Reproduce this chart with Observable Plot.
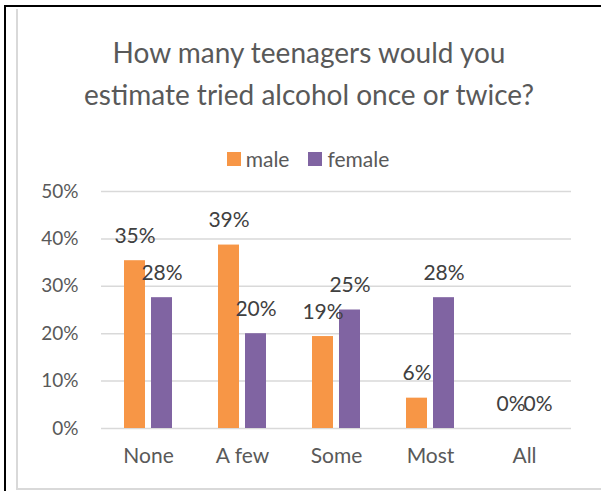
<!DOCTYPE html>
<html>
<head>
<meta charset="utf-8">
<script src="https://cdn.jsdelivr.net/npm/d3@7"></script>
<script src="https://cdn.jsdelivr.net/npm/@observablehq/plot@0.6"></script>
<style>
  html, body { margin: 0; padding: 0; background: #fff; }
  body { width: 601px; height: 491px; position: relative; overflow: hidden; font-family: Lato, "Open Sans", sans-serif; }
  #outer { position: absolute; left: 4px; top: 5px; width: 597px; height: 486px; border-left: 2px solid #000; border-top: 2px solid #000; box-sizing: border-box; }
  #inner { position: absolute; left: 16px; top: 9px; width: 585px; height: 481px; border-left: 2px solid #d9d9d9; border-bottom: 2px solid #d9d9d9; box-sizing: border-box; }
  #title { position: absolute; left: 16px; width: 586px; top: 31px; text-align: center; font-size: 28px; line-height: 42px; color: #595959; }
  #legend { position: absolute; left: 10px; width: 596px; top: 146px; height: 24px; line-height: 24px; text-align: center; font-size: 21px; color: #595959; }
  #legend .item { display: inline-flex; align-items: center; }
  #legend .sw { display: inline-block; width: 14px; height: 14px; margin-right: 5px; }
  #legend .item + .item { margin-left: 19px; }
  #chart { position: absolute; left: 0; top: 170px; }
</style>
</head>
<body>
<div id="outer"></div>
<div id="inner"></div>
<div id="title"></div>
<div id="legend"></div>
<div id="chart"></div>
<script>
const titleLines = ["How many teenagers would you", "estimate tried alcohol once or twice?"];
const categories = ["None", "A few", "Some", "Most", "All"];
const series = ["male", "female"];
const colors = ["#F79646", "#8064A2"];
const male = [0.354, 0.387, 0.194, 0.064, 0];
const female = [0.276, 0.200, 0.250, 0.276, 0];
const yTicks = [0, 0.1, 0.2, 0.3, 0.4, 0.5];

const values = { male, female };
const data = [];
categories.forEach((c, i) => series.forEach(s => data.push({ cat: c, sex: s, value: values[s][i] })));

document.getElementById("title").innerHTML = titleLines.map(t => `<div>${t}</div>`).join("");
document.getElementById("legend").innerHTML = series.map((s, i) =>
  `<span class="item"><span class="sw" style="background:${colors[i]}"></span>${s}</span>`).join("");

const pct = d3.format(".0%");

const chart = Plot.plot({
  width: 601,
  height: 310,
  marginLeft: 99,
  marginRight: 28,
  marginTop: 21,
  marginBottom: 52,
  style: { fontFamily: "Lato, 'Open Sans', sans-serif", fontSize: "19px", color: "#595959", background: "transparent" },
  fx: { domain: categories, padding: 0, label: null, axis: null },
  x: { domain: series, paddingInner: 0.217, paddingOuter: 0.826, axis: null },
  y: { domain: [0, 0.5], ticks: yTicks, label: null, axis: null },
  color: { domain: series, range: colors },
  marks: [
    Plot.gridY(yTicks, { stroke: "#d9d9d9", strokeOpacity: 1, strokeWidth: 1.5 }),
    Plot.axisY(yTicks, { anchor: "left", tickSize: 0, tickPadding: 23, tickFormat: pct, fontSize: 19, fill: "#595959", label: null }),
    Plot.axisFx({ anchor: "bottom", tickSize: 0, tickPadding: 20, fontSize: 21, fill: "#595959", label: null }),
    Plot.barY(data, { fx: "cat", x: "sex", y: "value", fill: "sex", inset: 0 }),
    Plot.text(data, { fx: "cat", x: "sex", y: "value", text: d => pct(d.value), lineAnchor: "bottom", dy: -18, fontSize: 21, fill: "#404040" })
  ]
});
document.getElementById("chart").appendChild(chart);
</script>
</body>
</html>
